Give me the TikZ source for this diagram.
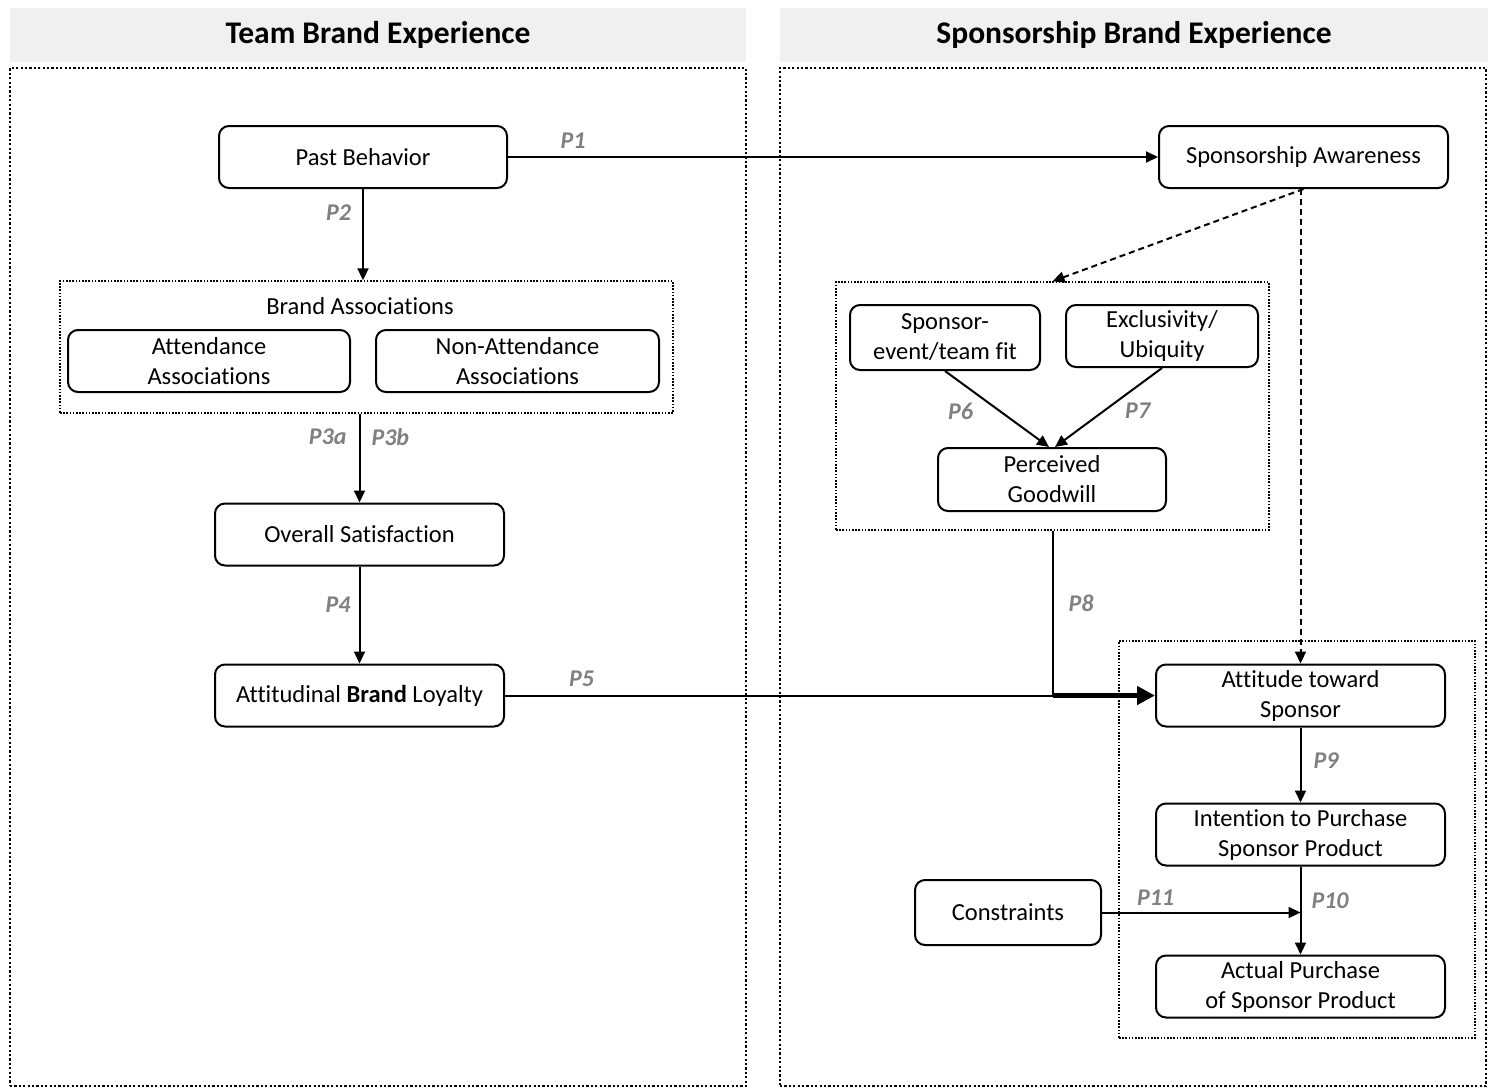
\documentclass[tikz,border=0pt]{standalone}
\usepackage{fontspec}
\setmainfont{Carlito}[Ligatures=NoCommon]
\usetikzlibrary{arrows.meta,positioning}

\tikzset{
	banner/.style={fill=black!6, minimum height=54pt, font=\fontsize{31.5}{34}\selectfont\bfseries},
	panel/.style={draw, line width=2.2pt, dash pattern=on 2.2pt off 2.2pt},
	zone/.style={draw, line width=1.4pt, dash pattern=on 1.6pt off 1.6pt},
	block/.style={draw, rounded corners=10pt, line width=2pt, align=center,
		minimum width=289pt, minimum height=62pt, font=\fontsize{24.5}{30}\selectfont},
	plabel/.style={text=black!50, inner sep=0pt, font=\fontsize{24}{26}\selectfont\bfseries\itshape},
	link/.style={-{Triangle[length=12pt,width=11pt]}, line width=2pt},
	hint/.style={link, dash pattern=on 6pt off 4pt}
}

\begin{document}
\begin{tikzpicture}[x=1pt, y=-1pt]
	\useasboundingbox (0,0) rectangle (1488,1087);

	% Headers and panels
	\node [banner, minimum width=736pt] 		(teamhead) 	at (378,35) 	{Team Brand Experience};
	\node [banner, minimum width=708pt] 		(sponshead) at (1134,35) 	{Sponsorship Brand Experience};
	\node [panel, minimum width=736pt, minimum height=1018pt] (teampanel) at (378,577) {};
	\node [panel, minimum width=706pt, minimum height=1018pt] (sponspanel) at (1133,577) {};

	% Groups
	\node [zone, minimum width=613pt, minimum height=132pt] 	(assoc) 	at (366.5,347) 	{};
	\node [zone, minimum width=433pt, minimum height=248pt] 	(fitgroup) at (1052.5,406) 	{};
	\node [zone, minimum width=356pt, minimum height=397pt] 	(outcomes) 	at (1297,839.5) {};

	% Nodes {team side}
	\node [block, minimum width=288pt] 	(past) 	at (363,157) 	{Past Behavior};
	\node [font=\fontsize{24.5}{30}\selectfont] (assoctitle) at (360,306) {Brand Associations};
	\node [block, minimum width=282pt] 	(attend) at (209,361) 	{Attendance\\Associations};
	\node [block, minimum width=283pt] 	(nonattend) [right=24pt of attend] {Non-Attendance\\Associations};
	\node [block] 						(satis) at (359.5,534.5) {Overall Satisfaction};
	\node [block] 						(loyal) at (359.5,695.5) {Attitudinal \textbf{Brand} Loyalty};

	% Nodes {sponsor side}
	\node [block] 						(aware) at (1303.5,157) {Sponsorship Awareness};
	\node [block, minimum width=190pt, minimum height=65pt] (fit) at (945,337.5) {Sponsor-\\event/team fit};
	\node [block, minimum width=192pt] 	(excl) 	at (1162,336) 	{Exclusivity/\\Ubiquity};
	\node [block, minimum width=228pt, minimum height=63pt] (goodwill) at (1052,479.5) {Perceived\\Goodwill};
	\node [block] 						(attitude) at (1300.5,695.5) {Attitude toward\\Sponsor};
	\node [block] 						(intent) [below=75pt of attitude] {Intention to Purchase\\Sponsor Product};
	\node [block] 						(purchase) [below=88pt of intent] {Actual Purchase\\of Sponsor Product};
	\node [block, minimum width=186pt, minimum height=65pt] (constr) at (1008,912.5) {Constraints};

	\coordinate (join) at (fitgroup.south |- attitude.west);
	\coordinate (meet) at (intent.south |- constr.east);

	% Paths
	\path [link] 	(past) edge node [plabel, pos=0.1, above=8pt] (p1) {P1} (aware);
	\path [link] 	(past.south) edge node [plabel, pos=0.26, left=11pt] (p2) {P2} (past.south |- assoc.north);
	\draw [link] 	(satis.north |- assoc.south) -- node [plabel, pos=0.26, left=12pt] (p3a) {P3a}
					node [plabel, pos=0.26, right=11pt] (p3b) {P3b} (satis.north);
	\path [link] 	(satis) edge node [plabel, pos=0.39, left=8pt] (p4) {P4} (loyal);
	\draw [line width=2pt] (loyal) -- node [plabel, pos=0.14, above=8pt] (p5) {P5} (join);
	\draw [line width=2pt] (fitgroup.south) -- node [plabel, pos=0.44, right=15pt] (p8) {P8} (join);
	\draw [-{Triangle[length=18pt,width=18pt]}, line width=5pt] (join) -- (attitude.west);
	\path [link] 	(fit.south) edge node [plabel, pos=0.53, left=26pt] (p6) {P6} ([xshift=-3pt]goodwill.north);
	\path [link] 	(excl.south) edge node [plabel, pos=0.54, right=20pt] (p7) {P7} ([xshift=3pt]goodwill.north);
	\path [hint] 	(aware.south) edge (fitgroup.north);
	\path [hint] 	(attitude.north |- aware.south) edge (attitude.north);
	\path [link] 	(attitude) edge node [plabel, pos=0.44, right=12pt] (p9) {P9} (intent);
	\path [link] 	(intent) edge node [plabel, pos=0.39, right=10pt] (p10) {P10} (purchase);
	\path [link] 	(constr) edge node [plabel, pos=0.27, above=6pt] (p11) {P11} (meet);

\end{tikzpicture}
\end{document}
